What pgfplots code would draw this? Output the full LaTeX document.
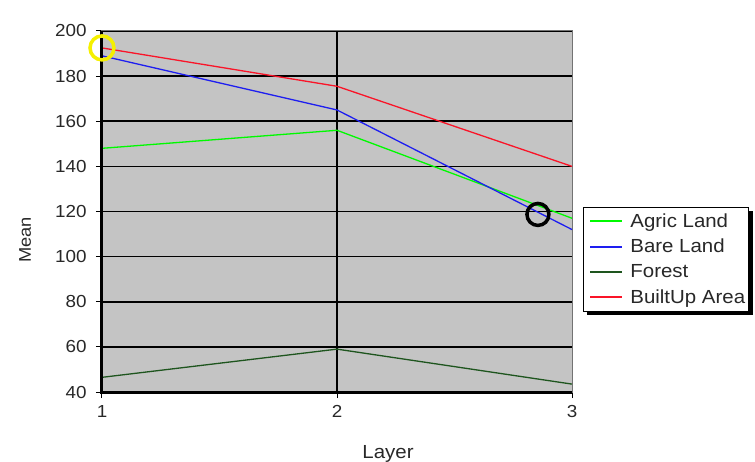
\documentclass[border=0pt]{standalone}
\usepackage{pgfplots}
\pgfplotsset{compat=1.18}
\usepackage{fontspec}
\setmainfont{Liberation Sans}[FakeStretch=1.08]
\usetikzlibrary{backgrounds}
\definecolor{bg}{RGB}{196,196,196}
\definecolor{agric}{RGB}{0,250,0}
\definecolor{bare}{RGB}{30,30,240}
\definecolor{forest}{RGB}{30,85,30}
\definecolor{built}{RGB}{250,20,40}
\definecolor{txt}{RGB}{40,40,40}
\definecolor{circy}{RGB}{245,240,0}
\begin{document}
\begin{tikzpicture}
\path[use as bounding box] (-102bp,-70bp) rectangle (653bp,392bp);
\begin{axis}[
  at={(0,0)}, anchor=south west,
  scale only axis, width=470bp, height=361bp,
  xmin=1, xmax=3, ymin=40, ymax=200,
  xtick={1,2,3}, ytick={40,60,...,200},
  xtick pos=left, ytick pos=left,
  tick align=outside, major tick length=6bp,
  tick style={black, line width=1bp},
  axis background/.style={fill=bg},
  ymajorgrids,
  major grid style={black, line width=1.6bp},
  extra x ticks={2}, extra x tick labels={},
  extra x tick style={grid=major, major tick length=0pt},
  axis line style={draw=black!55, line width=1bp},
  /pgf/number format/assume math mode=true,
  ticklabel style={font=\fontsize{17.5}{20}\selectfont, text=txt},
  yticklabel style={xshift=-6bp},
  xticklabel style={yshift=-4bp},
  xlabel={Layer},
  x label style={at={(axis description cs:0.6085,0)}, anchor=base, yshift=-66bp, font=\fontsize{19}{22}\selectfont, text=txt},
  ylabel={Mean},
  y label style={at={(axis description cs:-0.1638,0.421)}, anchor=center, font=\fontsize{17}{20}\selectfont, text=txt},
  clip=false,
  legend style={at={(axis description cs:1.0234,0.5125)}, anchor=north west,
    name=leg,
    draw=black, line width=0.8bp, fill=white,
    font=\fontsize{19}{21}\selectfont, text=txt,
    row sep=6.5bp, inner xsep=1bp, inner ysep=4bp},
  legend cell align=left,
  legend image code/.code={\path[draw=none] (0bp,0bp) -- (44bp,0bp); \draw[#1, line width=2bp] (6bp,0bp) -- (38bp,0bp);},
  legend style={nodes={inner xsep=2bp}},
]
\addplot[agric, line width=1.3bp] coordinates {(1,148) (2,156) (3,117)};
\addlegendentry{Agric Land}
\addplot[bare, line width=1.3bp] coordinates {(1,189) (2,165) (3,112)};
\addlegendentry{Bare Land}
\addplot[forest, line width=1.3bp] coordinates {(1,46.5) (2,59) (3,43.5)};
\addlegendentry{Forest}
\addplot[built, line width=1.3bp] coordinates {(1,192.5) (2,175.5) (3,140)};
\addlegendentry{BuiltUp Area}
\draw[black, line width=3bp] (rel axis cs:0,1) -- (rel axis cs:0,0) -- (rel axis cs:1,0);
\addplot[only marks, mark=o, mark size=12bp, mark options={draw=circy, line width=3.5bp}, forget plot] coordinates {(1,192.5)};
\addplot[only marks, mark=o, mark size=11bp, mark options={draw=black, line width=3.5bp}, forget plot] coordinates {(2.855,118.7)};
\end{axis}
\begin{scope}[on background layer]
\fill[black] ([xshift=4bp,yshift=-4bp]leg.south west) rectangle ([xshift=4bp,yshift=-4bp]leg.north east);
\end{scope}
\end{tikzpicture}
\end{document}
